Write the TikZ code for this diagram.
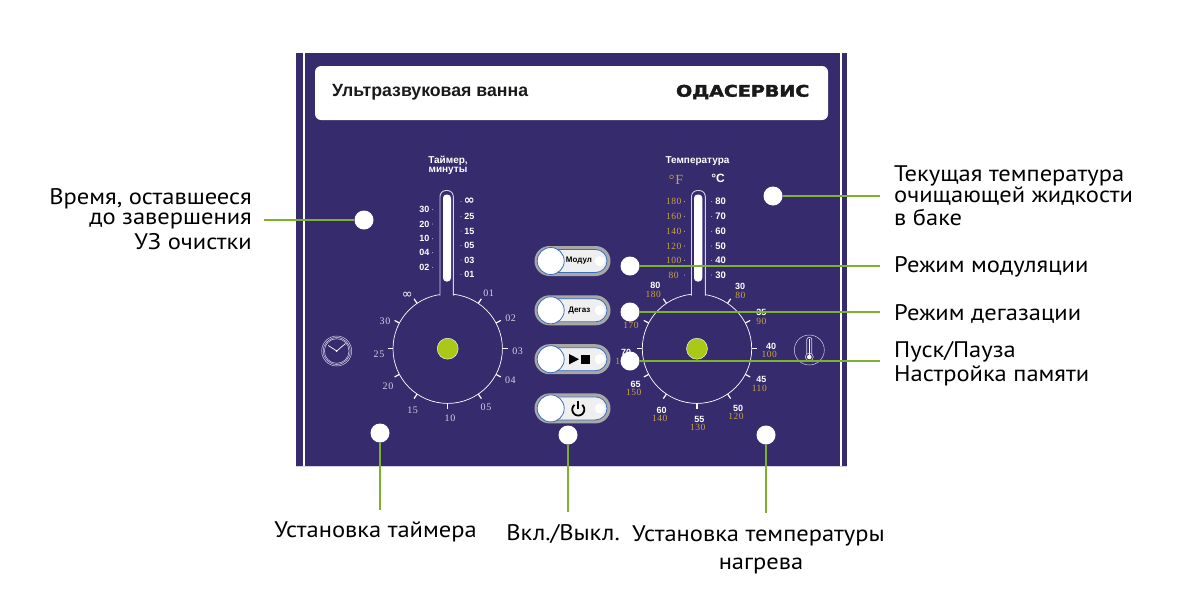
\documentclass[tikz,border=0pt]{standalone}
\usepackage{fontspec}
\usepackage{graphicx}
\setmainfont{PT Sans}
\newfontfamily\hdfont{Liberation Sans}
\newfontfamily\numfont[LetterSpace=6]{Liberation Serif}
\newfontfamily\logofont[FakeBold=2]{DejaVu Sans}
\newfontfamily\symfont{DejaVu Sans}
\newcommand{\lowtext}[1]{\scalebox{1}[0.92]{#1}}
\definecolor{panel}{HTML}{352B6D}
\definecolor{leaf}{HTML}{7CB32B}
\definecolor{knob}{HTML}{AAC916}
\definecolor{gold}{HTML}{C9A63F}
\definecolor{lilac}{HTML}{D5D2E6}
\definecolor{btnblue}{HTML}{3E6DB5}
\definecolor{btnouter}{HTML}{A8A8A8}
\definecolor{btninner}{HTML}{EFEFEF}
\tikzset{
  x=1pt,y=-1pt,
  callout/.style={font=\fontsize{24.5}{26}\selectfont,text=black,inner sep=0pt},
  hotspot/.style={circle,fill=white,draw=none,minimum size=19pt,inner sep=0pt},
  wire/.style={draw=leaf,line width=1.2pt},
  knobdot/.style={circle,fill=knob,draw=white,line width=0.4pt,minimum size=21pt,inner sep=0pt},
  scalenum/.style={font=\hdfont\bfseries\fontsize{9}{10}\selectfont,text=white,inner sep=0pt},
  dialnum/.style={font=\numfont\fontsize{10}{12}\selectfont,text=lilac,inner sep=0pt},
  goldnum/.style={font=\numfont\fontsize{9.5}{11}\selectfont,text=gold,inner sep=0pt},
  btnlabel/.style={font=\hdfont\bfseries\fontsize{8}{10}\selectfont,text=black,inner sep=0pt},
  paneltitle/.style={font=\hdfont\bfseries\fontsize{10}{10}\selectfont,text=white,inner sep=0pt},
}
\newcommand{\dialbase}[7]{% cx cy stemL stemR barL barR name
  \draw[white,line width=0.7pt] (#1,#2) circle[radius=54.7];
  \fill[panel] (#3,287) rectangle (#4,300);
  \draw[lilac,line width=0.9pt,rounded corners=6pt] (#3,295.5) -- (#3,190.5) -- (#4,190.5) -- (#4,295.5);
  \fill[white,rounded corners=3.5pt] (#5,194.5) rectangle (#6,281.5);
  \foreach \a in {-56,-28,0,28,56,90,124,152,180,-152,-124}
    \draw[white,line width=1.2pt] (#1,#2) ++(\a:54.7) -- ++(\a:5.5);
  \node[knobdot] (#7) at (#1,#2) {};
}
\newcommand{\panelbutton}[2]{% cy name
  \fill[btnouter,rounded corners=15pt] (534.5,#1-15) rectangle (610.5,#1+15);
  \draw[btnblue,fill=btninner,line width=0.8pt,rounded corners=11.5pt] (538,#1-11.5) rectangle (607,#1+11.5);
  \fill[white] (599.7,#1) circle[radius=5];
  \node[circle,fill=white,draw=btnblue,line width=0.8pt,minimum size=27pt,inner sep=0pt] (#2) at (550.7,#1) {};
}
\begin{document}
\begin{tikzpicture}
\useasboundingbox (0,0) rectangle (1200,600);
\fill[white] (0,0) rectangle (1200,600);
% panel
\fill[panel] (296,53) rectangle (847,466);
\draw[lilac,line width=0.6pt] (296,466) -- (847,466);
\fill[white] (302.5,53) rectangle (304.5,466);
\fill[white] (839.5,53) rectangle (841.5,466);
% header
\node[fill=white,rounded corners=6pt,minimum width=513pt,minimum height=54pt,inner sep=0pt,draw=none] (header) at (571.5,93) {};
\node[anchor=west,inner sep=0pt,font=\hdfont\bfseries\fontsize{17.7}{20}\selectfont,text=black!90] (htitle) at (332,92) {Ультразвуковая ванна};
\node[anchor=east,inner sep=0pt,font=\logofont\bfseries\fontsize{16}{18}\selectfont,text=black!90] (logo) at (809.5,92) {\scalebox{1.19}[1]{ОДАСЕРВИС}};
% titles
\node[paneltitle] (t1a) at (448,161) {Таймер,};
\node[paneltitle] (t1b) at (448,171) {минуты};
\node[paneltitle] (t2) at (697.5,161) {Температура};
\node[inner sep=0pt,text=gold,font=\numfont\fontsize{14}{15}\selectfont] (degf) at (676,180) {°F};
\node[inner sep=0pt,text=white,font=\hdfont\bfseries\fontsize{12}{14}\selectfont] (degc) at (718,178.5) {°C};
% dials
\dialbase{447.7}{348.7}{440}{453.3}{443}{451}{knobL}
\dialbase{697}{348.7}{691.5}{705.3}{694}{702.3}{knobR}
% left bar scale
\foreach \t/\y in {30/209.3,20/224,10/238.7,04/252.7,02/267.3}{
  \node[scalenum] at (424.3,\y) {\t};
  \fill[lilac] (432.7,\y) circle[radius=0.5];
}
\foreach \t/\y in {25/216.7,15/231,05/245.7,03/260,01/274.3}{
  \node[scalenum] at (469.3,\y) {\t};
  \fill[lilac] (461,\y) circle[radius=0.5];
}
\node[inner sep=0pt,text=white,font=\symfont\bfseries\fontsize{13}{14}\selectfont] at (469.3,201.3) {∞};
\fill[lilac] (461,201.3) circle[radius=0.5];
% right bar scale
\foreach \f/\c/\y in {180/80/201.7,160/70/216.3,140/60/231.3,120/50/246,100/40/260.3,80/30/275}{
  \node[goldnum] at (673.7,\y) {\f};
  \fill[lilac] (684.3,\y) circle[radius=0.5];
  \node[scalenum,font=\hdfont\bfseries\fontsize{9.5}{11}\selectfont] at (720.7,\y) {\c};
  \fill[lilac] (711.7,\y) circle[radius=0.5];
}
% left dial labels
\node[inner sep=0pt,text=white,font=\symfont\fontsize{13}{14}\selectfont] at (407.3,295) {∞};
\foreach \t/\x/\y in {01/488.7/293.7,02/510.7/318.7,03/517.7/351.3,04/510.3/380.7,05/486/407.7,10/450/418.3,15/412.7/410,20/388/386.3,25/379/354,30/385/321}
  \node[dialnum] at (\x,\y) {\t};
% right dial labels
\foreach \c/\f/\x/\y/\xx/\yy in {30/80/740/286.7/740.3/295.3,35/90/761.3/312.3/761.3/321.7,40/100/771/346/769.3/354.3,45/110/761.3/379/759.3/388,50/120/738/408/736/416.7,55/130/699.3/419/697.7/427.7,60/140/661.7/410/659.7/418.7,65/150/635.7/384/633.7/392.7,70/160/626/352.7/623/361,80/180/655.3/285.3/653.3/294}{
  \node[scalenum] at (\x,\y) {\c};
  \node[goldnum] at (\xx,\yy) {\f};
}
\node[goldnum] at (631,325) {170};
% clock icon
\draw[lilac,line width=0.5pt] (336.7,351) circle[radius=15];
\draw[lilac,line width=0.5pt] (336.7,351) circle[radius=13.5];
\draw[lilac,line width=0.5pt] (336.7,351) circle[radius=12.3];
\draw[white,line width=0.7pt] (328.3,345.5) -- (336.7,351) -- (345.5,343.5);
\fill[white] (336.7,351) circle[radius=1];
% thermometer icon
\draw[lilac,line width=0.5pt] (809.3,350) circle[radius=15];
\draw[lilac,line width=0.7pt,rounded corners=2pt] (806.8,354) -- (806.8,337.5) -- (811.8,337.5) -- (811.8,354);
\fill[white] (808.5,339) rectangle (810.1,355);
\draw[lilac,line width=0.6pt] (809.3,357) circle[radius=4];
\fill[white] (809.3,357) circle[radius=2.3];
% buttons
\panelbutton{261}{btnA}
\panelbutton{310.3}{btnB}
\panelbutton{359.2}{btnC}
\panelbutton{408.4}{btnD}
\node[btnlabel] (lblA) at (579,261) {Модул};
\node[btnlabel] (lblB) at (579.3,310.5) {Дегаз};
\fill[black] (569,354) -- (579,359.2) -- (569,364.4) -- cycle;
\fill[black] (581,355) rectangle (590,364);
\draw[black,line width=1.8pt] plot[smooth,domain=-50:230,samples=30] ({578.3+6*cos(\x)},{409.5+6*sin(\x)});
\draw[black,line width=1.8pt] (578.3,401) -- (578.3,409);
% hotspots
\node[hotspot] (hA) at (364,220) {};
\node[hotspot] (hB) at (630,266) {};
\node[hotspot] (hC) at (630,312) {};
\node[hotspot] (hD) at (630,361) {};
\node[hotspot] (hE) at (773,196) {};
\node[hotspot] (hF) at (380,433) {};
\node[hotspot] (hG) at (568,435) {};
\node[hotspot] (hH) at (766,435) {};
% free ends
\coordinate (eA) at (264,220);
\coordinate (eB) at (880,266);
\coordinate (eC) at (880,312);
\coordinate (eD) at (880,361);
\coordinate (eE) at (880,196);
\coordinate (eF) at (380,510);
\coordinate (eG) at (568,512);
\coordinate (eH) at (766,513);
\foreach \h/\e in {hA/eA,hB/eB,hC/eC,hD/eD,hE/eE,hF/eF,hG/eG,hH/eH}
  \draw[wire] (\h) -- (\e);
% callouts
\node[callout,anchor=east] (c1) at (252,198.5) {\lowtext{Время, оставшееся}};
\node[callout,anchor=east] (c2) at (252,221) {\lowtext{до завершения}};
\node[callout,anchor=east] (c3) at (252,241.5) {\lowtext{УЗ очистки}};
\node[callout,anchor=west] (c4) at (894,175.5) {\lowtext{Текущая температура}};
\node[callout,anchor=west] (c5) at (894,196.5) {\lowtext{очищающей жидкости}};
\node[callout,anchor=west] (c6) at (894,217.5) {\lowtext{в баке}};
\node[callout,anchor=west] (c7) at (894,266.5) {\lowtext{Режим модуляции}};
\node[callout,anchor=west] (c8) at (894,313.5) {\lowtext{Режим дегазации}};
\node[callout,anchor=west] (c9) at (894,351.5) {\lowtext{Пуск/Пауза}};
\node[callout,anchor=west] (c10) at (894,375.5) {\lowtext{Настройка памяти}};
\node[callout] (c11) at (375.5,532) {\lowtext{Установка таймера}};
\node[callout] (c12) at (563,534) {\lowtext{Вкл./Выкл.}};
\node[callout] (c13) at (758.5,536) {\lowtext{Установка температуры}};
\node[callout] (c14) at (761,566) {\lowtext{нагрева}};
\end{tikzpicture}
\end{document}
